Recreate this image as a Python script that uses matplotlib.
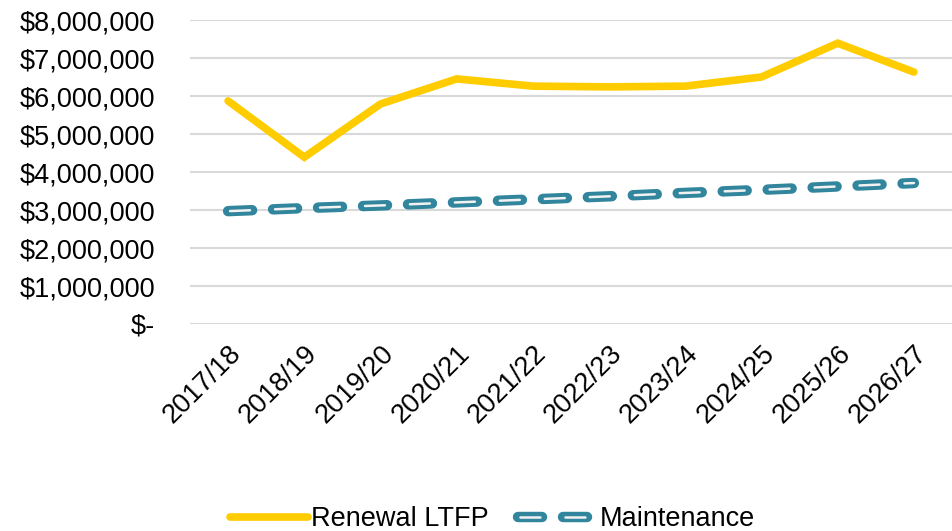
import matplotlib.pyplot as plt
from matplotlib.ticker import FuncFormatter
from matplotlib.legend_handler import HandlerTuple

plt.rcParams['font.family'] = ['Liberation Sans', 'DejaVu Sans']
plt.rcParams['lines.scale_dashes'] = False

# Data
years = ["2017/18", "2018/19", "2019/20", "2020/21", "2021/22",
         "2022/23", "2023/24", "2024/25", "2025/26", "2026/27"]
renewal_ltfp = [5870000, 4390000, 5790000, 6450000, 6260000,
                6240000, 6260000, 6500000, 7390000, 6630000]
maintenance = [2970000, 3050000, 3120000, 3200000, 3280000,
               3360000, 3450000, 3530000, 3620000, 3710000]

YELLOW = "#FFCC00"
TEAL = "#31859C"
FS = 19.5


def money(v, pos):
    if v == 0:
        return "$-"
    return f"${v:,.0f}"


fig = plt.figure(figsize=(9.52, 5.31), dpi=100)
ax = fig.add_axes([190 / 952, 1 - 324 / 531, 1 - 190 / 952, (324 - 20) / 531])

x = list(range(len(years)))
l1, = ax.plot(x, renewal_ltfp, color=YELLOW, lw=5.5, solid_capstyle="round",
              solid_joinstyle="miter", zorder=3)
# outer teal dash with a thin light line inside (compound line look)
l2, = ax.plot(x, maintenance, color=TEAL, lw=7.5, linestyle=(0, (17.3, 15.1)),
              dash_capstyle="round", zorder=3)
l3, = ax.plot(x, maintenance, color="#F2F2F2", lw=1.8,
              linestyle=(31.0, (14.4, 18.0)), dash_capstyle="round", zorder=4)

ax.set_xlim(-0.5, len(years) - 0.5)
ax.set_ylim(0, 8000000)
ax.set_yticks(range(0, 8000001, 1000000))
ax.yaxis.set_major_formatter(FuncFormatter(money))
ax.set_xticks(x)
ax.set_xticklabels(years, rotation=45, ha="right", rotation_mode="anchor")
ax.tick_params(axis="both", length=0, labelsize=FS)
ax.tick_params(axis="x", pad=12)
ax.tick_params(axis="y", pad=25)
ax.grid(axis="y", color="#D9D9D9", lw=1.5)
ax.set_axisbelow(True)
for s in ax.spines.values():
    s.set_visible(False)

fig.legend([l1, (l2, l3)], ["Renewal LTFP", "Maintenance"],
           handler_map={tuple: HandlerTuple(ndivide=1)},
           loc="center", bbox_to_anchor=(0.517, 0.022), ncol=2,
           frameon=False, fontsize=FS, handlelength=2.9,
           handletextpad=0.1, columnspacing=1.1)

fig.savefig("out.png", dpi=100)
